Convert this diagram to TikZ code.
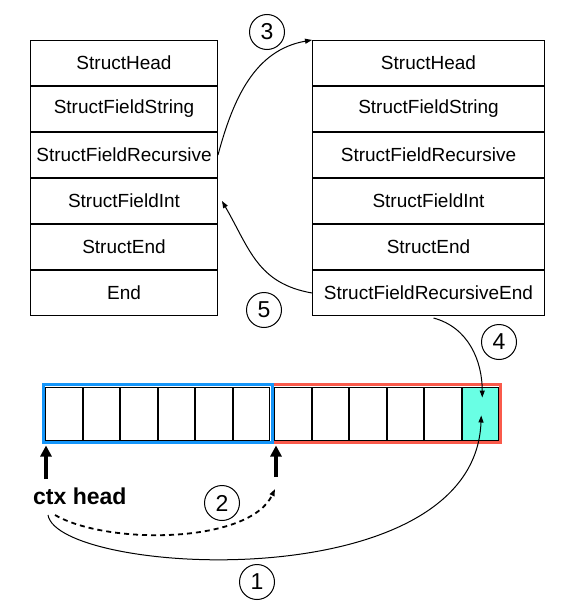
\documentclass[tikz,border=0pt]{standalone}
\usepackage{fontspec}
\setmainfont{Liberation Sans}
\usetikzlibrary{shapes,arrows.meta,positioning}

\definecolor{frameblue}{RGB}{20,150,250}
\definecolor{framered}{RGB}{250,90,75}
\definecolor{cellcyan}{RGB}{105,255,228}

\begin{document}
\begin{tikzpicture}[x=1pt, y=1pt, node distance=0pt]
    % 样式
    \tikzstyle{row} = [rectangle, minimum height=45, text centered, draw=black, line width=1pt, inner sep=0pt, font=\fontsize{19}{22}\selectfont]
    \tikzstyle{lrow} = [row, minimum width=187]
    \tikzstyle{rrow} = [row, minimum width=232]
    \tikzstyle{cell} = [rectangle, minimum width=36.5, minimum height=53, draw=black, line width=1pt, inner sep=0pt]
    \tikzstyle{num} = [circle, draw=black, line width=1pt, minimum size=35, inner sep=0pt, font=\fontsize{23}{26}\selectfont]
    \tikzstyle{arrow} = [line width=1pt, -{Triangle[length=7pt,width=5pt]}]
    \tikzstyle{ptr} = [line width=3.5pt, -{Triangle[length=11pt,width=11pt]}, shorten >=5pt]

    \useasboundingbox (0,0) rectangle (570,-613);

    % 左边的表
    \node [lrow] (lhead) at (124,-63) {StructHead};
    \node [lrow, below=of lhead] (lstring) {StructFieldString};
    \node [lrow, below=of lstring] (lrecur) {StructFieldRecursive};
    \node [lrow, below=of lrecur] (lint) {StructFieldInt};
    \node [lrow, below=of lint] (lsend) {StructEnd};
    \node [lrow, below=of lsend] (lend) {End};
    \draw [line width=2pt] (lrecur.south west) -- (lrecur.south east);

    % 右边的表
    \node [rrow] (rhead) at (428.5,-63) {StructHead};
    \node [rrow, below=of rhead] (rstring) {StructFieldString};
    \node [rrow, below=of rstring] (rrecur) {StructFieldRecursive};
    \node [rrow, below=of rrecur] (rint) {StructFieldInt};
    \node [rrow, below=of rint] (rsend) {StructEnd};
    \node [rrow, below=of rsend] (rrend) {StructFieldRecursiveEnd};
    \draw [line width=2pt] (rrecur.south west) -- (rrecur.south east);

    % 下面的缓冲区
    \draw [framered, line width=3pt] (272.5,-384.5) rectangle (500.5,-442.5);
    \draw [frameblue, line width=3pt] (43,-384.5) rectangle (272.5,-442.5);
    \node [cell] (c1) at (63.75,-413.5) {};
    \node [cell, right=of c1] (c2) {};
    \node [cell, right=of c2] (c3) {};
    \node [cell, right=of c3] (c4) {};
    \node [cell, right=of c4] (c5) {};
    \node [cell, right=of c5] (c6) {};
    \node [cell] (c7) at (292.75,-413.5) {};
    \node [cell, right=of c7] (c8) {};
    \node [cell, right=of c8] (c9) {};
    \node [cell, right=of c9] (c10) {};
    \node [cell, right=of c10] (c11) {};
    \node [cell, right=of c11, fill=cellcyan] (c12) {};

    % ctx head
    \node [font=\bfseries\fontsize{23}{26}\selectfont, inner sep=0pt, anchor=west] (head) at (33,-496.5) {ctx head};
    \coordinate (ptrl) at (46,-479);
    \coordinate (ptrr) at (276,-477);
    \coordinate (s1) at (48,-515);
    \coordinate (s2) at (55,-515);
    \coordinate (e2) at (275,-489);

    % 编号
    \node [num] (n1) at (257,-582) {1};
    \node [num] (n2) at (222,-503) {2};
    \node [num] (n3) at (267,-32) {3};
    \node [num] (n4) at (499,-342) {4};
    \node [num] (n5) at (264,-310) {5};

    % 箭头
    \draw [ptr] (ptrl) -- (ptrl |- c1.south);
    \draw [ptr] (ptrr) -- (ptrr |- c7.south);
    \draw [arrow] (s1) .. controls +(10,-60) and +(-7,-185) .. ([shift={(1,-2)}]c12.center);
    \draw [arrow, dash pattern=on 5pt off 4pt, line width=1.8pt] (s2) to[out=-30, in=-115, looseness=0.7] (e2);
    \draw [arrow] (lrecur.east) to[out=75, in=190] (rhead.north west);
    \draw [arrow] ([shift={(5,-2)}]rrend.south) to[out=-15, in=90] ([shift={(2,16)}]c12.center);
    \draw [arrow] (rrend.west) to[out=170, in=-60, looseness=1.1] ([xshift=4]lint.east);
\end{tikzpicture}
\end{document}
